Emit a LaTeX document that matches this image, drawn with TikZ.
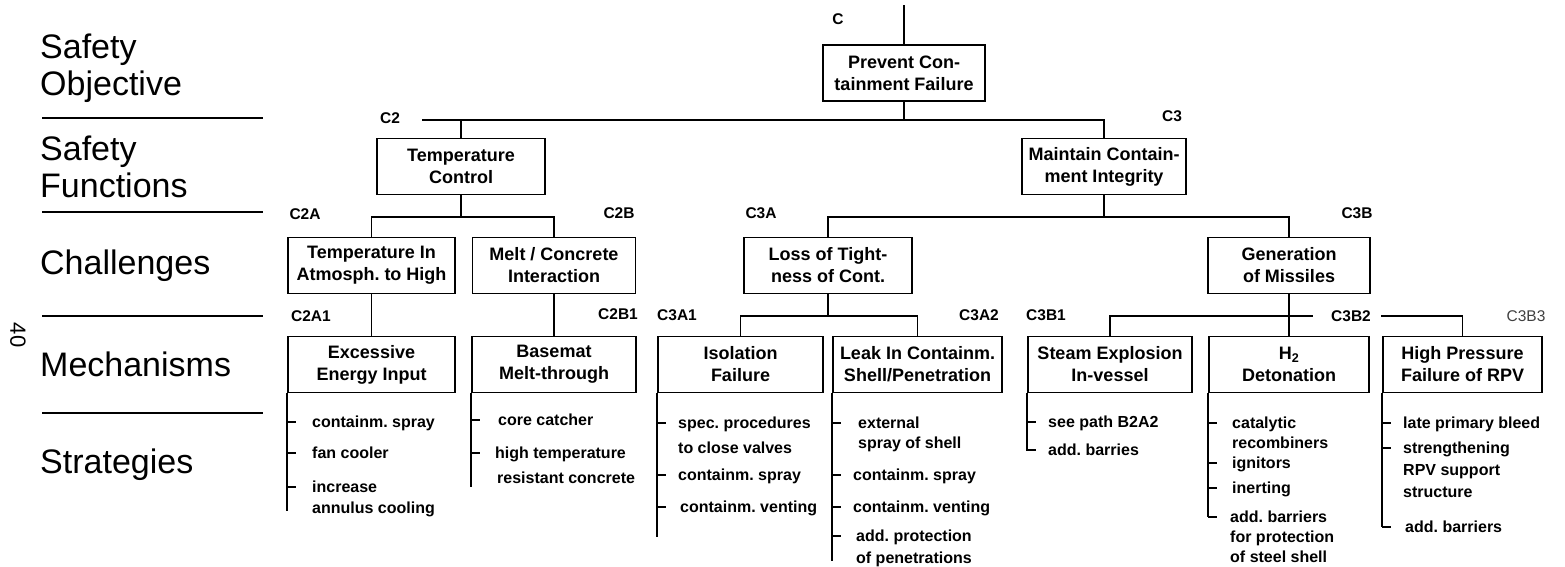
\documentclass[tikz,border=0pt]{standalone}
\usepackage{fontspec}
\setmainfont{Liberation Sans}
\frenchspacing
\newcommand{\bxfont}{\fontsize{18}{22}\selectfont\bfseries}
\newcommand{\lbfont}{\fontsize{15.5}{18}\selectfont\bfseries}
\newcommand{\stfont}{\fontsize{16}{18}\selectfont\bfseries}
\newcommand{\sdfont}{\fontsize{34}{37}\selectfont}
\tikzset{
  box/.style={draw, line width=1.8pt, minimum height=56pt, inner sep=0pt, align=center, font=\bxfont},
  lab/.style={font=\lbfont, inner sep=0pt},
  strat/.style={font=\stfont, inner sep=0pt, anchor=base west},
  conn/.style={line width=1.8pt},
  thin conn/.style={line width=1.3pt},
  sepline/.style={line width=1.6pt},
  side/.style={font=\sdfont, align=left, anchor=west, inner sep=0pt},
  tick/.style={line width=1.6pt},
}
\begin{document}
\frenchspacing
\begin{tikzpicture}[x=1pt,y=-1pt]
\useasboundingbox (0,0) rectangle (1565,566);

% ---- side column ----
\node[side] (sObj) at (40,68) {Safety\\Objective};
\node[side] (sFun) at (40,167) {Safety\\Functions};
\node[side] (sCha) at (40,266) {Challenges};
\node[side] (sMec) at (40,364) {Mechanisms};
\node[side] (sStr) at (40,465) {Strategies};
\node[font=\fontsize{22}{24}\selectfont, rotate=-90, inner sep=0pt] (pg) at (18,335) {40};
\draw[sepline] (42,118) -- (263,118);
\draw[sepline] (42,212) -- (263,212);
\draw[sepline] (42,316) -- (263,316);
\draw[sepline] (42,413) -- (263,413);

% ---- boxes ----
\node[box, minimum width=162pt] (C) at (904,73) {Prevent Con-\\tainment Failure};
\node[box, minimum width=168pt] (C2) at (461,166.5) {Temperature\\Control};
\node[box, minimum width=164pt] (C3) at (1104,166.5) {Maintain Contain-\\ment Integrity};
\node[box, minimum width=167pt] (C2A) at (371.5,265.5) {Temperature In\\Atmosph. to High};
\node[box, minimum width=163pt] (C2B) at (554,265.5) {Melt / Concrete\\Interaction};
\node[box, minimum width=168pt] (C3A) at (828,265.5) {Loss of Tight-\\ness of Cont.};
\node[box, minimum width=162pt] (C3B) at (1289,265.5) {Generation\\of Missiles};
\node[box, minimum width=167pt] (C2A1) at (371.5,364.5) {Excessive\\Energy Input};
\node[box, minimum width=164pt] (C2B1) at (554,364.5) {Basemat\\Melt-through};
\node[box, minimum width=165pt] (C3A1) at (740.5,364.5) {Isolation\\Failure};
\node[box, minimum width=169pt] (C3A2) at (917.5,364.5) {Leak In Containm.\\Shell/Penetration};
\node[box, minimum width=164pt] (C3B1) at (1110,364.5) {Steam Explosion\\In-vessel};
\node[box, minimum width=160pt] (C3B2) at (1289,364.5) {H\textsubscript{2}\\Detonation};
\node[box, minimum width=159pt] (C3B3) at (1462.5,364.5) {High Pressure\\Failure of RPV};

% ---- labels ----
\node[lab] (lC) at (838,19) {C};
\node[lab] (lC2) at (390,118) {C2};
\node[lab] (lC3) at (1172,116) {C3};
\node[lab] (lC2A) at (305,214) {C2A};
\node[lab] (lC2B) at (619,213) {C2B};
\node[lab] (lC3A) at (761,213) {C3A};
\node[lab] (lC3B) at (1357,213) {C3B};
\node[lab] (lC2A1) at (311,316) {C2A1};
\node[lab] (lC2B1) at (618,314) {C2B1};
\node[lab] (lC3A1) at (677,315) {C3A1};
\node[lab] (lC3A2) at (979,315) {C3A2};
\node[lab] (lC3B1) at (1046,315) {C3B1};
\node[lab] (lC3B2) at (1351,316) {C3B2};
\node[lab, font=\fontsize{15.5}{18}\selectfont, text=black!75] (lC3B3) at (1526,316) {C3B3};

% ---- connectors ----
\coordinate (top) at (904,5);
\coordinate (h1) at (0,120);
\coordinate (l1) at (422,120);
\coordinate (h2) at (0,217);
\coordinate (h3) at (0,316);
\coordinate (g1) at (1313,316);
\coordinate (g2) at (1381,316);

\draw[conn] (top) -- (C.north);
\draw[conn] (C.south) -- (C.south |- h1);
\draw[conn] (l1) -- (C3.north |- h1) -- (C3.north);
\draw[conn] (C2.north |- h1) -- (C2.north);
\draw[conn] (C2.south) -- (C2.south |- h2);
\draw[conn] (C2A.north) -- (C2A.north |- h2) -- (C2B.north |- h2) -- (C2B.north);
\draw[conn] (C3.south) -- (C3.south |- h2);
\draw[conn] (C3A.north) -- (C3A.north |- h2) -- (C3B.north |- h2) -- (C3B.north);
\draw[conn] (C2A.south) -- (C2A1.north);
\draw[conn] (C2B.south) -- (C2B1.north);
\draw[conn] (C3A.south) -- (C3A.south |- h3);
\draw[conn] (C3A1.north) -- (C3A1.north |- h3) -- (C3A2.north |- h3) -- (C3A2.north);
\draw[conn] (C3B.south) -- (C3B2.north);
\draw[conn] (C3B1.north) -- (C3B1.north |- h3) -- (g1);
\draw[thin conn] (g2) -- (C3B3.north |- h3) -- (C3B3.north);

% ---- strategies: C2A1 ----
\draw[tick] (C2A1.south west) -- ++(0,118);
\node[strat] (a1) at (312,427) {containm. spray};
\node[strat] (a2) at (312,458) {fan cooler};
\node[strat] (a3) at (312,492) {increase};
\node[strat] (a4) at (312,513) {annulus cooling};
\foreach \s in {a1,a2,a3} \draw[tick] (C2A1.south west |- \s.base) ++(0,-5) -- ++(9,0);

% ---- C2B1 ----
\draw[tick] (C2B1.south west) -- ++(0,94);
\node[strat] (b1) at (498,425) {core catcher};
\node[strat] (b2) at (495,458) {high temperature};
\node[strat] (b3) at (497,483) {resistant concrete};
\foreach \s in {b1,b2} \draw[tick] (C2B1.south west |- \s.base) ++(0,-5) -- ++(9,0);

% ---- C3A1 ----
\draw[tick] (C3A1.south west) -- ++(0,144);
\node[strat] (c1) at (678,428) {spec. procedures};
\node[strat] (c2) at (678,453) {to close valves};
\node[strat] (c3) at (678,480) {containm. spray};
\node[strat] (c4) at (680,512) {containm. venting};
\foreach \s in {c1,c3,c4} \draw[tick] (C3A1.south west |- \s.base) ++(0,-5) -- ++(9,0);

% ---- C3A2 ----
\draw[tick] (C3A2.south west) -- ++(0,168);
\node[strat] (d1) at (858,428) {external};
\node[strat] (d2) at (858,448) {spray of shell};
\node[strat] (d3) at (853,480) {containm. spray};
\node[strat] (d4) at (853,512) {containm. venting};
\node[strat] (d5) at (856,541) {add. protection};
\node[strat] (d6) at (856,563) {of penetrations};
\foreach \s in {d1,d3,d4,d5} \draw[tick] (C3A2.south west |- \s.base) ++(0,-5) -- ++(9,0);

% ---- C3B1 ----
\draw[tick] (C3B1.south west) -- (C3B1.south west |- 0,451);
\node[strat] (e1) at (1048,427) {see path B2A2};
\node[strat] (e2) at (1048,455) {add. barries};
\foreach \s in {e1,e2} \draw[tick] (C3B1.south west |- \s.base) ++(0,-5) -- ++(9,0);

% ---- C3B2 ----
\draw[tick] (C3B2.south west) -- (C3B2.south west |- 0,517);
\node[strat] (f1) at (1232,428) {catalytic};
\node[strat] (f2) at (1232,448) {recombiners};
\node[strat] (f3) at (1232,468) {ignitors};
\node[strat] (f4) at (1232,493) {inerting};
\node[strat] (f5) at (1230,522) {add. barriers};
\node[strat] (f6) at (1230,542) {for protection};
\node[strat] (f7) at (1230,562) {of steel shell};
\foreach \s in {f1,f3,f4,f5} \draw[tick] (C3B2.south west |- \s.base) ++(0,-5) -- ++(9,0);

% ---- C3B3 ----
\draw[tick] (C3B3.south west) -- (C3B3.south west |- 0,527);
\node[strat] (g1t) at (1403,428) {late primary bleed};
\node[strat] (g2t) at (1403,453) {strengthening};
\node[strat] (g3t) at (1403,475) {RPV support};
\node[strat] (g4t) at (1403,497) {structure};
\node[strat] (g5t) at (1405,532) {add. barriers};
\foreach \s in {g1t,g2t,g5t} \draw[tick] (C3B3.south west |- \s.base) ++(0,-5) -- ++(9,0);
\end{tikzpicture}
\end{document}
